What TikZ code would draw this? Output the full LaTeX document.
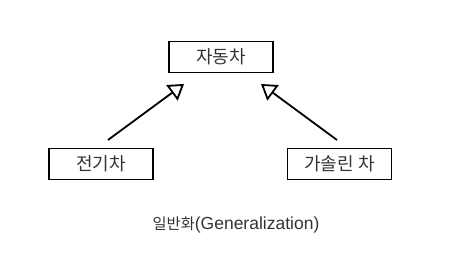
\documentclass[tikz,border=0pt]{standalone}
\usepackage{fontspec}
\newfontfamily\kr{Noto Sans CJK KR}
\newfontfamily\lat{Liberation Sans}
\usetikzlibrary{arrows.meta}
\begin{document}
\begin{tikzpicture}[x=1pt,y=-1pt,
  cls/.style={draw=black, line width=1.8pt, minimum width=104pt, minimum height=31pt, inner sep=0pt, font=\kr\fontsize{18}{20}\selectfont, text=black!80},
  gen/.style={line width=1.8pt, -{Triangle[open,length=15pt,width=19pt,line width=1.8pt]}}]
\useasboundingbox (0,0) rectangle (458,261);
\node[cls] (t) at (221,57) {자동차};
\node[cls] (l) at (101,164) {전기차};
\node[cls] (r) at (339.5,164) {가솔린 차};
\coordinate (ls) at (108,140);
\coordinate (le) at (184,84);
\coordinate (rs) at (337,140);
\coordinate (re) at (261,84);
\draw[gen] (ls) -- (le);
\draw[gen] (rs) -- (re);
\node[text=black!80, inner sep=0pt] (cap) at (236,225) {{\kr\fontsize{15.3}{17}\selectfont 일반화}{\lat\fontsize{17.5}{19}\selectfont (Generalization)}};
\end{tikzpicture}
\end{document}
